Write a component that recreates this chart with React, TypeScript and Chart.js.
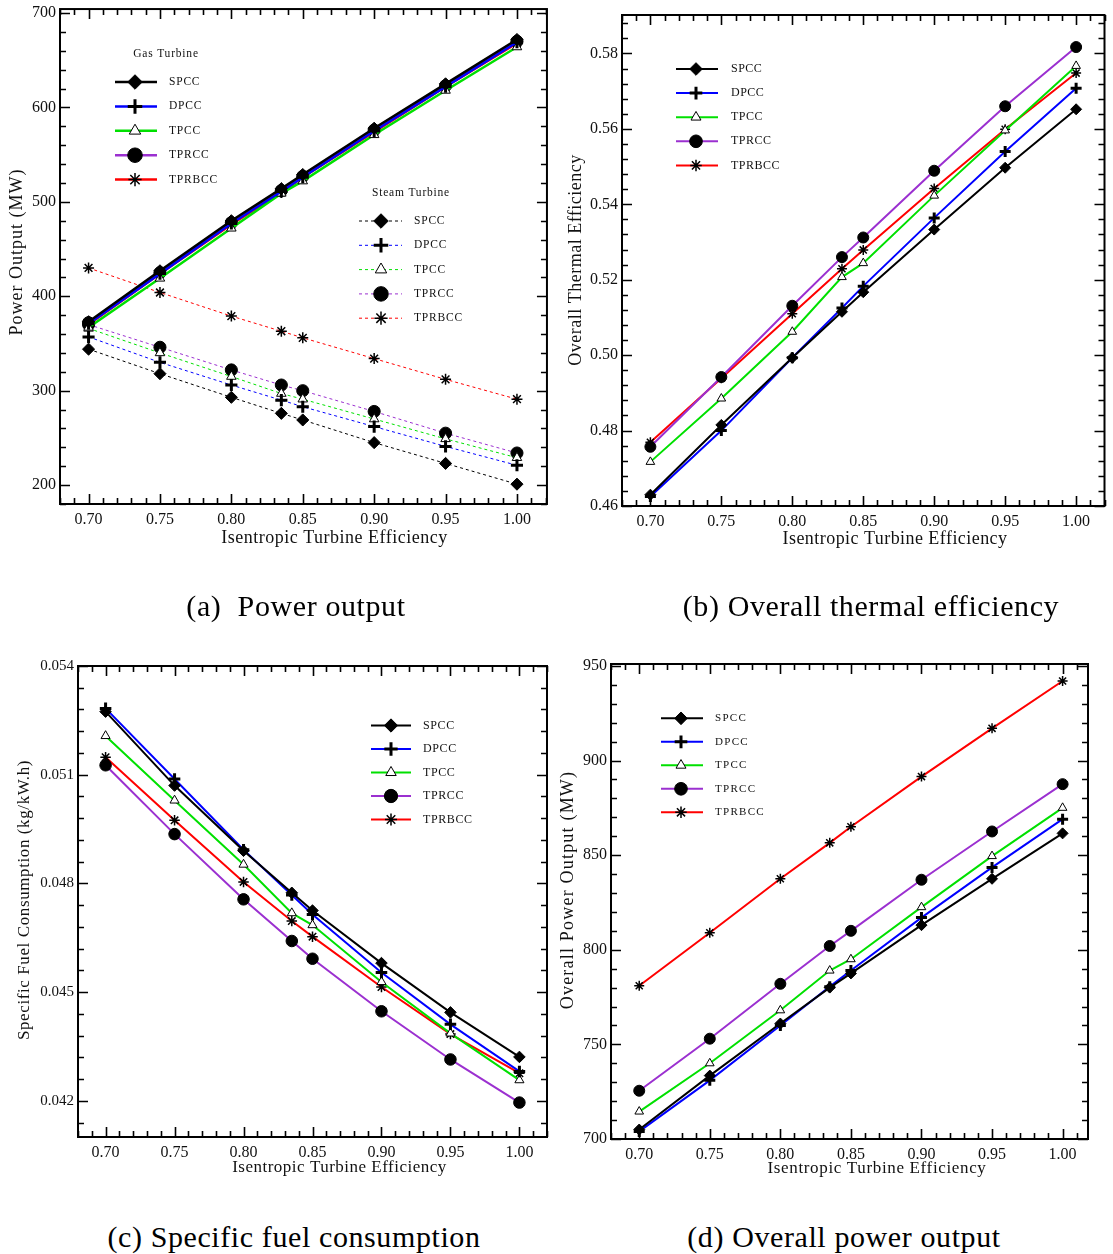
import React, { useEffect, useRef } from 'react';
import { Chart, registerables } from 'chart.js';
import { drawPoint } from 'chart.js/helpers';

Chart.register(...registerables);

// ---------------- DATA ----------------
const effX = [0.70, 0.75, 0.80, 0.835, 0.85, 0.90, 0.95, 1.00];
const cycleNames = ['SPCC', 'DPCC', 'TPCC', 'TPRCC', 'TPRBCC'];
const xTicks = [0.70, 0.75, 0.80, 0.85, 0.90, 0.95, 1.00];

// (a) Gas turbine power output (MW)
const gasSPCC = [373, 427, 480, 514, 529, 578, 625, 672];
const gasDPCC = [371, 424, 477, 511, 526, 575, 622, 669];
const gasTPCC = [367, 419, 472, 509, 522, 571, 618, 664];
const gasTPRCC = [372, 425, 478, 512, 527, 576, 623, 670];
const gasTPRBCC = [370, 424, 476, 510, 526, 574, 622, 668];
// (a) Steam turbine power output (MW)
const steamSPCC = [344, 318, 293, 276, 269, 245, 223, 201];
const steamDPCC = [357, 330, 306, 290, 283, 262, 241, 221];
const steamTPCC = [366, 340, 315, 297, 291, 270, 249, 229];
const steamTPRCC = [370, 346, 322, 306, 300, 278, 255, 234];
const steamTPRBCC = [430, 404, 379, 363, 356, 334, 312, 291];
const aYTicks = [200, 300, 400, 500, 600, 700];

// (b) Overall thermal efficiency
const effSPCC = [0.4630, 0.4815, 0.4993, 0.5115, 0.5167, 0.5333, 0.5497, 0.5652];
const effDPCC = [0.4625, 0.4800, 0.4993, 0.5125, 0.5183, 0.5364, 0.5540, 0.5708];
const effTPCC = [0.4717, 0.4885, 0.5062, 0.5207, 0.5244, 0.5423, 0.5596, 0.5767];
const effTPRCC = [0.4757, 0.4942, 0.5131, 0.5260, 0.5312, 0.5489, 0.5660, 0.5817];
const effTPRBCC = [0.4769, 0.4939, 0.5110, 0.5229, 0.5279, 0.5442, 0.5599, 0.5748];
const bYTicks = [0.46, 0.48, 0.50, 0.52, 0.54, 0.56, 0.58];

// (c) Specific fuel consumption (kg/kW.h)
const sfcSPCC = [0.05274, 0.05070, 0.04890, 0.04774, 0.04725, 0.04580, 0.04444, 0.04321];
const sfcDPCC = [0.05283, 0.05088, 0.04893, 0.04768, 0.04714, 0.04554, 0.04411, 0.04281];
const sfcTPCC = [0.05207, 0.05029, 0.04852, 0.04718, 0.04685, 0.04528, 0.04386, 0.04257];
const sfcTPRCC = [0.05126, 0.04936, 0.04756, 0.04641, 0.04592, 0.04447, 0.04314, 0.04195];
const sfcTPRBCC = [0.05148, 0.04974, 0.04804, 0.04696, 0.04653, 0.04514, 0.04384, 0.04276];
const cYTicks = [0.042, 0.045, 0.048, 0.051, 0.054];

// (d) Overall power output (MW)
const totSPCC = [705, 733.5, 761, 780, 787.5, 813, 837.5, 861.5];
const totDPCC = [704, 731, 760, 780.5, 789, 817, 843.5, 869];
const totTPCC = [714.5, 740, 768, 789, 795, 822.5, 849.5, 875];
const totTPRCC = [725.5, 753, 782, 802, 810, 837, 862.5, 887.5];
const totTPRBCC = [781, 809, 837.5, 856.5, 865, 891.5, 917, 942];
const dYTicks = [700, 750, 800, 850, 900, 950];

// ---------------- STYLES ----------------
const FAM = "'Liberation Serif', 'Times New Roman', serif";

type CycleStyle = { color: string; pointStyle: string; radius: number; fill: string; bw: number };
const cycleStyles: CycleStyle[] = [
  { color: '#000000', pointStyle: 'rectRot', radius: 5.5, fill: '#000000', bw: 1 },
  { color: '#0000ff', pointStyle: 'cross', radius: 5.5, fill: '#000000', bw: 3 },
  { color: '#00e000', pointStyle: 'triangle', radius: 5, fill: '#ffffff', bw: 1 },
  { color: '#9b30d0', pointStyle: 'circle', radius: 5.5, fill: '#000000', bw: 1 },
  { color: '#ff0000', pointStyle: 'star', radius: 5, fill: '#000000', bw: 1.5 },
];

function makeDataset(name: string, values: number[], st: CycleStyle, lineWidth: number, dash: number[], rScale: number) {
  return {
    label: name,
    data: effX.map((x, i) => ({ x, y: values[i] })),
    borderColor: st.color,
    backgroundColor: st.color,
    borderWidth: lineWidth,
    borderDash: dash,
    pointStyle: st.pointStyle,
    pointRadius: st.radius * rScale,
    pointHoverRadius: st.radius * rScale,
    pointBorderColor: '#000000',
    pointBackgroundColor: st.fill,
    pointBorderWidth: st.bw,
    tension: 0,
    fill: false,
  };
}

function seriesSet(arrs: number[][], lw: number, dash: number[], rScale: number) {
  return arrs.map((arr, i) => makeDataset(cycleNames[i], arr, cycleStyles[i], lw, dash, rScale));
}

type Legend = {
  title?: string; titleX?: number; titleY?: number;
  x1: number; x2: number; mx: number; lx: number; y0: number; dy: number;
  idx: number[]; font: number; spacing: number; rScale: number;
};

type PanelSpec = {
  canvas: { left: number; top: number; w: number; h: number };
  area: { l: number; t: number; r: number; b: number };
  xRange: [number, number];
  yRange: [number, number];
  yTicks: number[];
  yDec: number;
  yTickFont: number;
  xTitle: { text: string; x: number; y: number; size: number; spacing: number };
  yTitle: { text: string; x: number; y: number; size: number; spacing: number };
  legends: Legend[];
  datasets: any[];
};

function stepValues(ticks: number[], min: number, max: number) {
  const step = (ticks[1] - ticks[0]) / 5;
  const out: number[] = [];
  for (let k = -60; k < 600; k++) {
    const v = ticks[0] + k * step;
    if (v >= min - step * 1e-3 && v <= max + step * 1e-3) out.push(v);
  }
  return out;
}

function decor(p: PanelSpec) {
  return {
    id: 'decor',
    afterDraw(chart: any) {
      const ctx: CanvasRenderingContext2D = chart.ctx;
      const { left, top, right, bottom } = chart.chartArea;
      const xs = chart.scales.x;
      const ys = chart.scales.y;
      const ox = p.canvas.left, oy = p.canvas.top;
      ctx.save();
      ctx.strokeStyle = '#000';
      ctx.lineWidth = 1.6;
      ctx.beginPath();
      // x ticks (minor + major), bottom and top, inward
      stepValues(xTicks, p.xRange[0], p.xRange[1]).forEach((v) => {
        const px = Math.round(xs.getPixelForValue(v)) + 0.5;
        const major = xTicks.some((t) => Math.abs(t - v) < 1e-6);
        const len = major ? 10 : 6;
        ctx.moveTo(px, bottom); ctx.lineTo(px, bottom - len);
        ctx.moveTo(px, top); ctx.lineTo(px, top + len);
      });
      stepValues(p.yTicks, p.yRange[0], p.yRange[1]).forEach((v) => {
        const py = Math.round(ys.getPixelForValue(v)) + 0.5;
        const major = p.yTicks.some((t) => Math.abs(t - v) < Math.abs(p.yTicks[1] - p.yTicks[0]) * 1e-4);
        const len = major ? 10 : 6;
        ctx.moveTo(left, py); ctx.lineTo(left + len, py);
        ctx.moveTo(right, py); ctx.lineTo(right - len, py);
      });
      ctx.stroke();
      ctx.lineWidth = 2;
      ctx.strokeRect(left, top, right - left, bottom - top);

      // axis titles
      ctx.fillStyle = '#111';
      ctx.textAlign = 'center';
      ctx.textBaseline = 'middle';
      (ctx as any).letterSpacing = p.xTitle.spacing + 'px';
      ctx.font = `${p.xTitle.size}px ${FAM}`;
      ctx.fillText(p.xTitle.text, p.xTitle.x - ox, p.xTitle.y - oy);
      ctx.save();
      ctx.translate(p.yTitle.x - ox, p.yTitle.y - oy);
      ctx.rotate(-Math.PI / 2);
      (ctx as any).letterSpacing = p.yTitle.spacing + 'px';
      ctx.font = `${p.yTitle.size}px ${FAM}`;
      ctx.fillText(p.yTitle.text, 0, 0);
      ctx.restore();

      // legends
      p.legends.forEach((lg) => {
        ctx.font = `${lg.font}px ${FAM}`;
        (ctx as any).letterSpacing = lg.spacing + 'px';
        ctx.textBaseline = 'middle';
        if (lg.title) {
          ctx.textAlign = 'center';
          ctx.fillStyle = '#111';
          ctx.fillText(lg.title, (lg.titleX as number) - ox, (lg.titleY as number) - oy);
        }
        lg.idx.forEach((di, row) => {
          const d = chart.data.datasets[di];
          const y = lg.y0 + row * lg.dy - oy;
          ctx.save();
          ctx.strokeStyle = d.borderColor;
          ctx.lineWidth = d.borderWidth;
          ctx.setLineDash(d.borderDash || []);
          ctx.beginPath();
          ctx.moveTo(lg.x1 - ox, y);
          ctx.lineTo(lg.x2 - ox, y);
          ctx.stroke();
          ctx.setLineDash([]);
          ctx.fillStyle = d.pointBackgroundColor;
          ctx.strokeStyle = d.pointBorderColor;
          ctx.lineWidth = d.pointBorderWidth;
          drawPoint(ctx, { pointStyle: d.pointStyle, radius: d.pointRadius * lg.rScale, rotation: 0, borderWidth: d.pointBorderWidth } as any, lg.mx - ox, y);
          ctx.restore();
          ctx.textAlign = 'left';
          ctx.fillStyle = '#111';
          ctx.fillText(d.label, lg.lx - ox, y);
        });
      });
      ctx.restore();
    },
  };
}

function buildChart(canvas: HTMLCanvasElement, p: PanelSpec) {
  const c = p.canvas, a = p.area;
  const yW = a.l - c.left;
  const padTop = a.t - c.top;
  const padRight = c.left + c.w - a.r;
  const xH = c.top + c.h - a.b;
  const zeroPad = (s: any) => { s.paddingLeft = 0; s.paddingRight = 0; s.paddingTop = 0; s.paddingBottom = 0; };
  return new Chart(canvas, {
    type: 'line',
    data: { datasets: p.datasets },
    options: {
      responsive: false,
      maintainAspectRatio: false,
      animation: false,
      devicePixelRatio: 1,
      events: [],
      layout: { padding: { left: 0, top: padTop, right: padRight, bottom: 0 } },
      plugins: { legend: { display: false }, tooltip: { enabled: false }, title: { display: false } },
      scales: {
        x: {
          type: 'linear', position: 'bottom', min: p.xRange[0], max: p.xRange[1],
          grid: { display: false, drawTicks: false }, border: { display: false },
          ticks: { autoSkip: false, maxRotation: 0, padding: 6, color: '#111', font: { family: FAM, size: 16 },
            callback: (v: any) => Number(v).toFixed(2) },
          afterBuildTicks: (s: any) => { s.ticks = xTicks.map((v) => ({ value: v })); },
          afterFit: (s: any) => { s.height = xH; zeroPad(s); },
        },
        y: {
          type: 'linear', position: 'left', min: p.yRange[0], max: p.yRange[1],
          grid: { display: false, drawTicks: false }, border: { display: false },
          ticks: { autoSkip: false, padding: 4, color: '#111', font: { family: FAM, size: p.yTickFont },
            callback: (v: any) => Number(v).toFixed(p.yDec) },
          afterBuildTicks: (s: any) => { s.ticks = p.yTicks.map((v) => ({ value: v })); },
          afterFit: (s: any) => { s.width = yW; zeroPad(s); },
        },
      },
    } as any,
    plugins: [decor(p)],
  });
}

// ---------------- PANELS ----------------
const xTitleText = 'Isentropic Turbine Efficiency';

const panelA: PanelSpec = {
  canvas: { left: 0, top: 0, w: 556, h: 560 },
  area: { l: 60, t: 9, r: 553, b: 504 },
  xRange: [0.68, 1.021], yRange: [180, 704.2], yTicks: aYTicks, yDec: 0, yTickFont: 16,
  xTitle: { text: xTitleText, x: 334.5, y: 538, size: 18, spacing: 0.5 },
  yTitle: { text: 'Power Output (MW)', x: 17, y: 252, size: 18, spacing: 1 },
  legends: [
    { title: 'Gas Turbine', titleX: 166, titleY: 54, x1: 115, x2: 157, mx: 135, lx: 169, y0: 82, dy: 24.4, idx: [0, 1, 2, 3, 4], font: 11.5, spacing: 0.8, rScale: 1.2 },
    { title: 'Steam Turbine', titleX: 411, titleY: 193, x1: 359, x2: 402, mx: 381, lx: 414, y0: 221, dy: 24.3, idx: [5, 6, 7, 8, 9], font: 11.5, spacing: 0.8, rScale: 1.2 },
  ],
  datasets: [
    ...seriesSet([gasSPCC, gasDPCC, gasTPCC, gasTPRCC, gasTPRBCC], 2.5, [], 1.1),
    ...seriesSet([steamSPCC, steamDPCC, steamTPCC, steamTPRCC, steamTPRBCC], 1, [3, 3], 1.1),
  ],
};

const panelB: PanelSpec = {
  canvas: { left: 556, top: 0, w: 557, h: 560 },
  area: { l: 622, t: 15, r: 1111, b: 506 },
  xRange: [0.68, 1.02], yRange: [0.46, 0.5902], yTicks: bYTicks, yDec: 2, yTickFont: 16,
  xTitle: { text: xTitleText, x: 895, y: 539, size: 18, spacing: 0.45 },
  yTitle: { text: 'Overall Thermal Efficiency', x: 576, y: 260, size: 18, spacing: 0.5 },
  legends: [
    { x1: 676, x2: 718, mx: 696, lx: 731, y0: 69, dy: 24.1, idx: [0, 1, 2, 3, 4], font: 12, spacing: 0.5, rScale: 1.15 },
  ],
  datasets: seriesSet([effSPCC, effDPCC, effTPCC, effTPRCC, effTPRBCC], 2, [], 1),
};

const panelC: PanelSpec = {
  canvas: { left: 0, top: 620, w: 556, h: 570 },
  area: { l: 78, t: 666, r: 547, b: 1137 },
  xRange: [0.68, 1.02], yRange: [0.041, 0.054], yTicks: cYTicks, yDec: 3, yTickFont: 15,
  xTitle: { text: xTitleText, x: 339.5, y: 1168, size: 17, spacing: 0.5 },
  yTitle: { text: 'Specific Fuel Consumption (kg/kW.h)', x: 25, y: 900, size: 17, spacing: 0.6 },
  legends: [
    { x1: 371, x2: 411, mx: 391, lx: 423, y0: 725.5, dy: 23.5, idx: [0, 1, 2, 3, 4], font: 12, spacing: 0.6, rScale: 1.15 },
  ],
  datasets: seriesSet([sfcSPCC, sfcDPCC, sfcTPCC, sfcTPRCC, sfcTPRBCC], 2, [], 1.05),
};

const panelD: PanelSpec = {
  canvas: { left: 556, top: 620, w: 557, h: 570 },
  area: { l: 611, t: 664, r: 1088, b: 1139 },
  xRange: [0.68, 1.018], yRange: [700, 951], yTicks: dYTicks, yDec: 0, yTickFont: 16,
  xTitle: { text: xTitleText, x: 877, y: 1169, size: 17, spacing: 0.65 },
  yTitle: { text: 'Overall Power Output (MW)', x: 568, y: 890, size: 18, spacing: 1.2 },
  legends: [
    { x1: 661, x2: 703, mx: 681, lx: 715, y0: 718.3, dy: 23.5, idx: [0, 1, 2, 3, 4], font: 11, spacing: 1.3, rScale: 1.15 },
  ],
  datasets: seriesSet([totSPCC, totDPCC, totTPCC, totTPRCC, totTPRBCC], 2, [], 1),
};

const captions = [
  { text: '(a)  Power output', cx: 296, cy: 606 },
  { text: '(b) Overall thermal efficiency', cx: 871, cy: 606 },
  { text: '(c) Specific fuel consumption', cx: 294, cy: 1237 },
  { text: '(d) Overall power output', cx: 844, cy: 1237 },
];

function Panel({ spec }: { spec: PanelSpec }) {
  const ref = useRef<HTMLCanvasElement>(null);
  useEffect(() => {
    const chart = buildChart(ref.current as HTMLCanvasElement, spec);
    return () => chart.destroy();
  }, [spec]);
  const c = spec.canvas;
  return (
    <canvas
      ref={ref}
      width={c.w}
      height={c.h}
      style={{ position: 'absolute', left: c.left, top: c.top, width: c.w, height: c.h }}
    />
  );
}

export default function App() {
  return (
    <div style={{ position: 'absolute', left: 0, top: 0, width: 1113, height: 1254, background: '#ffffff', overflow: 'hidden' }}>
      <Panel spec={panelA} />
      <Panel spec={panelB} />
      <Panel spec={panelC} />
      <Panel spec={panelD} />
      {captions.map((cp) => (
        <div
          key={cp.text}
          style={{
            position: 'absolute', left: cp.cx - 300, width: 600, top: cp.cy - 20, height: 40,
            lineHeight: '40px', textAlign: 'center', fontFamily: FAM, fontSize: 30,
            letterSpacing: '0.6px', whiteSpace: 'pre', color: '#000',
          }}
        >
          {cp.text}
        </div>
      ))}
    </div>
  );
}
